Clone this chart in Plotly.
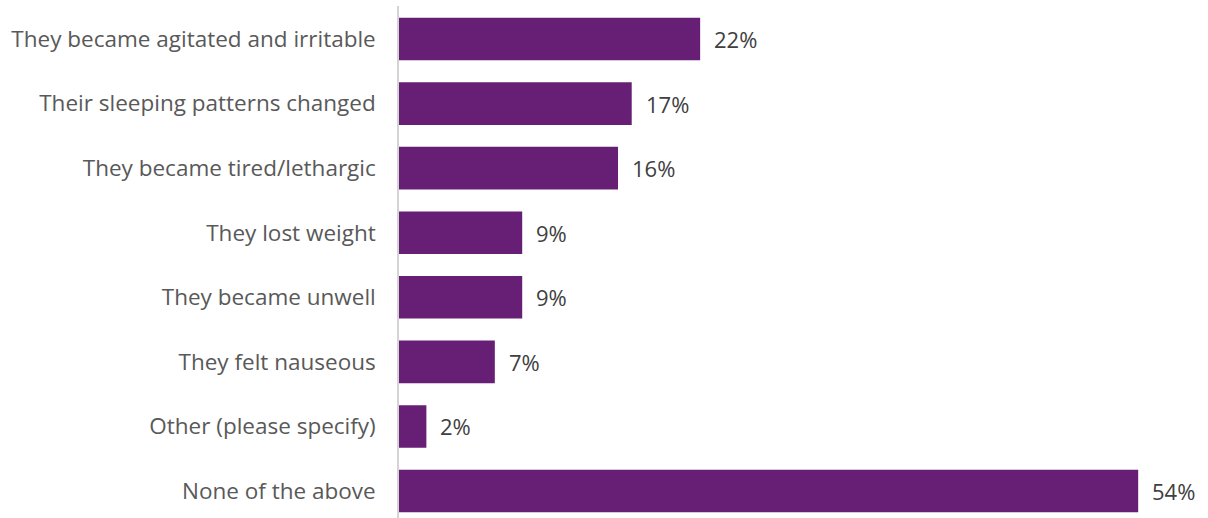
import plotly.graph_objects as go

categories = [
    "They became agitated and irritable",
    "Their sleeping patterns changed",
    "They became tired/lethargic",
    "They lost weight",
    "They became unwell",
    "They felt nauseous",
    "Other (please specify)",
    "None of the above",
]
values = [22, 17, 16, 9, 9, 7, 2, 54]
value_labels = [f"{v}%" for v in values]

BAR_COLOR = "#671E75"
LABEL_COLOR = "#595959"
VALUE_COLOR = "#404040"
FONT = "'Open Sans', Lato, sans-serif"

fig = go.Figure(
    go.Bar(
        y=categories,
        x=values,
        orientation="h",
        marker=dict(color=BAR_COLOR, line=dict(width=0)),
        width=0.66,
        hoverinfo="skip",
    )
)

for cat, v, lab in zip(categories, values, value_labels):
    fig.add_annotation(
        x=v, y=cat, text=lab, showarrow=False,
        xanchor="left", yanchor="middle", xshift=12,
        font=dict(family=FONT, size=22, color=VALUE_COLOR),
    )

fig.update_layout(
    width=1208,
    height=518,
    margin=dict(l=399, r=0, t=6, b=0),
    paper_bgcolor="white",
    plot_bgcolor="white",
    showlegend=False,
    font=dict(family=FONT, size=22, color=LABEL_COLOR),
)
fig.update_xaxes(
    range=[0, 59.1], visible=False, showgrid=False, zeroline=False,
)
fig.update_yaxes(
    categoryorder="array", categoryarray=categories,
    range=[7.418, -0.511],
    showgrid=False, zeroline=False,
    showline=True, linecolor="#d4d4d4", linewidth=1.5,
    ticks="", ticklabelstandoff=17,
    tickfont=dict(family=FONT, size=22.5, color=LABEL_COLOR),
)

fig.write_html("out.html")
